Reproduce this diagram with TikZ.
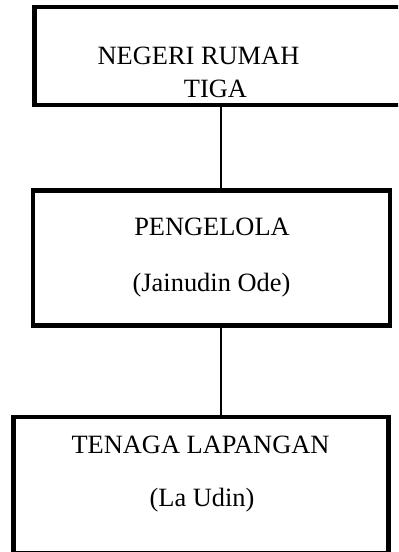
\documentclass[tikz,border=0pt]{standalone}
\usepackage{fontspec}
\setmainfont{Liberation Serif}
\begin{document}
\begin{tikzpicture}[x=1bp,y=-1bp,
  box/.style={draw, rectangle, line width=4.5bp, inner sep=0pt, outer sep=0pt},
  lbl/.style={font=\fontsize{26.4bp}{30bp}\selectfont, anchor=base, inner sep=0pt},
  link/.style={line width=1.5bp}]
\useasboundingbox (0,0) rectangle (398,552);
\clip (0,0) rectangle (398,552);
\node[box, minimum width=375.5bp, minimum height=98bp] (b1) at (222.25,56) {};
\node[box, minimum width=357bp, minimum height=135bp] (b2) at (211.5,258) {};
\node[box, minimum width=375bp, minimum height=136bp] (b3) at (201,485) {};
\node[lbl] (t1a) at (198.5,65) {NEGERI RUMAH};
\node[lbl] (t1b) at (215.5,97.5) {TIGA};
\node[lbl] (t2a) at (212,235) {PENGELOLA};
\node[lbl] (t2b) at (211.5,291.5) {(Jainudin Ode)};
\node[lbl] (t3a) at (200.5,453) {TENAGA LAPANGAN};
\node[lbl] (t3b) at (202,506.5) {(La Udin)};
\coordinate (cx) at (221,0);
\draw[link] (b1.south -| cx) -- (b2.north -| cx);
\draw[link] (b2.south -| cx) -- (b3.north -| cx);
\end{tikzpicture}
\end{document}
